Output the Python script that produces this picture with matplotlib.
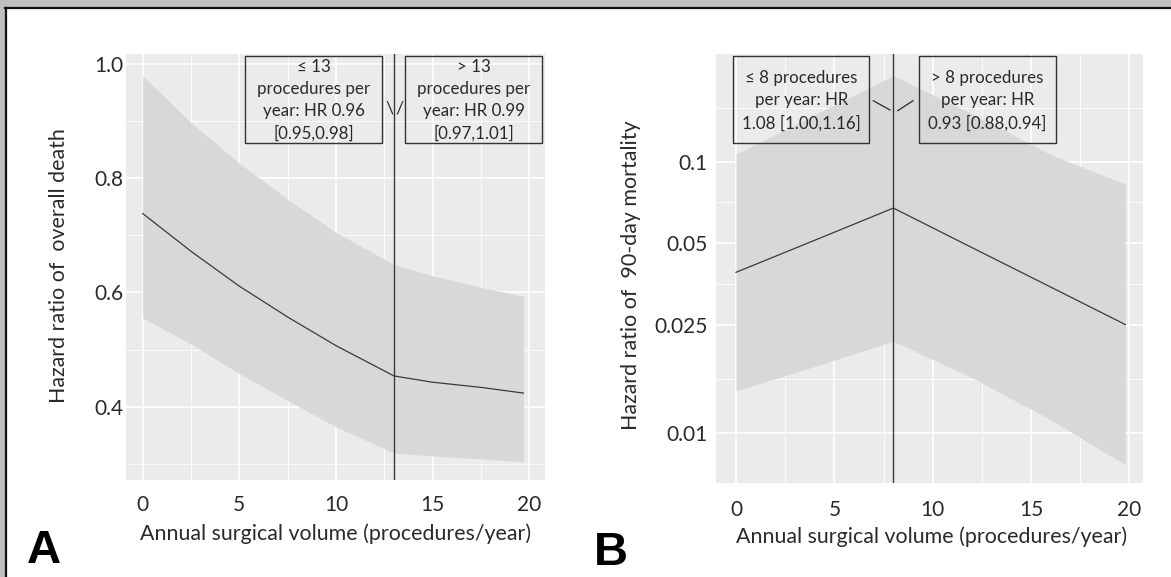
import matplotlib
matplotlib.use("Agg")
import matplotlib.pyplot as plt
from matplotlib.patches import Rectangle
from matplotlib.lines import Line2D
from matplotlib.ticker import FixedLocator, NullFormatter

plt.rcParams['font.family'] = ['Lato', 'DejaVu Sans']

# ---------------- data ----------------
# Panel A: overall death (linear scale)
a_x = [0, 2.5, 5, 7.5, 10, 13, 15, 17.5, 19.7]
a_hr = [0.738, 0.672, 0.611, 0.557, 0.507, 0.454, 0.443, 0.434, 0.424]
a_upper = [0.979, 0.897, 0.826, 0.763, 0.705, 0.649, 0.629, 0.609, 0.593]
a_lower = [0.555, 0.510, 0.458, 0.411, 0.365, 0.319, 0.314, 0.309, 0.304]
a_cut = 13
a_yticks = [0.4, 0.6, 0.8, 1.0]
a_yticklabels = ["0.4", "0.6", "0.8", "1.0"]
a_yminor = [0.3, 0.5, 0.7, 0.9]
a_box_left = "\u2264 13\nprocedures per\nyear: HR 0.96\n[0.95,0.98]"
a_box_right = "> 13\nprocedures per\nyear: HR 0.99\n[0.97,1.01]"

# Panel B: 90-day mortality (log scale)
b_x = [0, 4, 8, 12, 16, 19.8]
b_hr = [0.0391, 0.0513, 0.0674, 0.0482, 0.0345, 0.0251]
b_upper = [0.1066, 0.1486, 0.207, 0.150, 0.106, 0.0826]
b_lower = [0.0143, 0.0176, 0.0218, 0.0160, 0.0112, 0.00764]
b_cut = 8
b_yticks = [0.01, 0.025, 0.05, 0.1]
b_yticklabels = ["0.01", "0.025", "0.05", "0.1"]
b_yminor = [0.0158, 0.0354, 0.0707, 0.158]
b_box_left = "\u2264 8 procedures\nper year: HR\n1.08 [1.00,1.16]"
b_box_right = "> 8 procedures\nper year: HR\n0.93 [0.88,0.94]"

x_ticks = [0, 5, 10, 15, 20]
x_minor = [2.5, 7.5, 12.5, 17.5]
xlabel = "Annual surgical volume (procedures/year)"
a_ylabel = "Hazard ratio of  overall death"
b_ylabel = "Hazard ratio of  90-day mortality"

# ---------------- figure ----------------
W, H = 1171, 577
fig = plt.figure(figsize=(W / 100, H / 100), dpi=100)
fig.patch.set_facecolor('white')
# grey outer frame (top and left) with a dark inner line
fig.patches.append(Rectangle((0, 1 - 7 / H), 1, 7 / H, transform=fig.transFigure,
                             facecolor='#c0c0c0', edgecolor='none', zorder=-5))
fig.patches.append(Rectangle((0, 0), 5 / W, 1, transform=fig.transFigure,
                             facecolor='#c0c0c0', edgecolor='none', zorder=-5))
fig.lines.append(Line2D([5.5 / W, 1], [1 - 7.5 / H, 1 - 7.5 / H], transform=fig.transFigure,
                        color='#111111', linewidth=1.6, zorder=-4))
fig.lines.append(Line2D([5.8 / W, 5.8 / W], [0, 1 - 7.5 / H], transform=fig.transFigure,
                        color='#111111', linewidth=1.6, zorder=-4))

PANEL = '#ebebeb'
RIBBON = '#d8d8d8'
LINE = '#3a3a3a'
TXT = '#2a2a2a'
TICK_FS = 15
TITLE_FS = 15.4
BOX_FS = 12.2
BOX_LS = 1.48


def style(ax):
    ax.set_facecolor(PANEL)
    for s in ax.spines.values():
        s.set_visible(False)
    ax.grid(True, which='major', color='white', linewidth=1.2)
    ax.grid(True, which='minor', color='white', linewidth=0.6)
    ax.set_axisbelow(True)
    ax.tick_params(which='both', length=0, colors=TXT, labelsize=TICK_FS)
    ax.set_xticks(x_ticks)
    ax.set_xticks(x_minor, minor=True)


def px_axes(left, top, right, bottom):
    return fig.add_axes([left / W, 1 - bottom / H, (right - left) / W, (bottom - top) / H])


def box(ax, x0, y0, w, h):
    ax.add_patch(Rectangle((x0, y0), w, h, transform=ax.transAxes, facecolor='none',
                           edgecolor='#333333', linewidth=1.0, zorder=5, clip_on=False))


# ---------------- panel A ----------------
axA = px_axes(126, 54, 544.5, 480)
style(axA)
axA.fill_between(a_x, a_lower, a_upper, color=RIBBON, linewidth=0, zorder=1)
axA.plot(a_x, a_hr, color=LINE, linewidth=0.9, zorder=2)
axA.axvline(a_cut, color=LINE, linewidth=1.0, zorder=3)
axA.set_xlim(-0.864, 20.79)
axA.set_ylim(0.272, 1.017)
axA.set_yticks(a_yticks)
axA.set_yticklabels(a_yticklabels)
axA.yaxis.set_minor_locator(FixedLocator(a_yminor))
axA.tick_params(axis='y', pad=2)
axA.tick_params(axis='x', pad=11)

for cx, txt in [(0.4484, a_box_left), (0.8307, a_box_right)]:
    axA.text(cx, 0.8913, txt, transform=axA.transAxes, ha='center', va='center',
             fontsize=BOX_FS, color=TXT, linespacing=BOX_LS, zorder=5)
box(axA, 0.2851, 0.7904, 0.3266, 0.2056)
box(axA, 0.6674, 0.7904, 0.3266, 0.2056)
axA.text(0.6284, 0.8709, "\\", transform=axA.transAxes, ha='center', va='center',
         fontsize=13, color=TXT)
axA.text(0.6537, 0.8709, "/", transform=axA.transAxes, ha='center', va='center',
         fontsize=13, color=TXT)

axA.text(0.5, -0.1268, xlabel, transform=axA.transAxes, ha='center', va='center',
         fontsize=TITLE_FS, color=TXT)
axA.text(-0.161, 0.5023, a_ylabel, transform=axA.transAxes, ha='center', va='center',
         rotation=90, fontsize=TITLE_FS, color=TXT)

# ---------------- panel B ----------------
axB = px_axes(716, 54, 1142.7, 483)
style(axB)
axB.set_yscale('log')
axB.fill_between(b_x, b_lower, b_upper, color=RIBBON, linewidth=0, zorder=1)
axB.plot(b_x, b_hr, color=LINE, linewidth=0.9, zorder=2)
axB.axvline(b_cut, color=LINE, linewidth=1.0, zorder=3)
axB.set_xlim(-1.02, 20.68)
axB.set_ylim(0.00655, 0.2489)
axB.yaxis.set_major_locator(FixedLocator(b_yticks))
axB.set_yticklabels(b_yticklabels)
axB.yaxis.set_minor_locator(FixedLocator(b_yminor))
axB.yaxis.set_minor_formatter(NullFormatter())
axB.tick_params(axis='y', pad=6)
axB.tick_params(axis='x', pad=12.5)

for cx, txt in [(0.1999, b_box_left), (0.6359, b_box_right)]:
    axB.text(cx, 0.8911, txt, transform=axB.transAxes, ha='center', va='center',
             fontsize=BOX_FS, color=TXT, linespacing=BOX_LS, zorder=5)
box(axB, 0.0405, 0.7918, 0.3187, 0.2042)
box(axB, 0.4750, 0.7918, 0.3218, 0.2042)
axB.plot([0.3686, 0.4078], [0.8911, 0.8695], transform=axB.transAxes, color=TXT, linewidth=0.9)
axB.plot([0.4258, 0.4617], [0.8678, 0.8911], transform=axB.transAxes, color=TXT, linewidth=0.9)

axB.text(0.505, -0.1259, xlabel, transform=axB.transAxes, ha='center', va='center',
         fontsize=TITLE_FS, color=TXT)
axB.text(-0.2, 0.485, b_ylabel, transform=axB.transAxes, ha='center', va='center',
         rotation=90, fontsize=TITLE_FS, color=TXT)

# panel letters
fig.text(44 / W, 1 - 551 / H, "A", ha='center', va='center', fontsize=34,
         fontweight='bold', family='Liberation Sans', color='black')
fig.text(611 / W, 1 - 553 / H, "B", ha='center', va='center', fontsize=34,
         fontweight='bold', family='Liberation Sans', color='black')

fig.savefig("out.png", dpi=100, facecolor=fig.get_facecolor())
